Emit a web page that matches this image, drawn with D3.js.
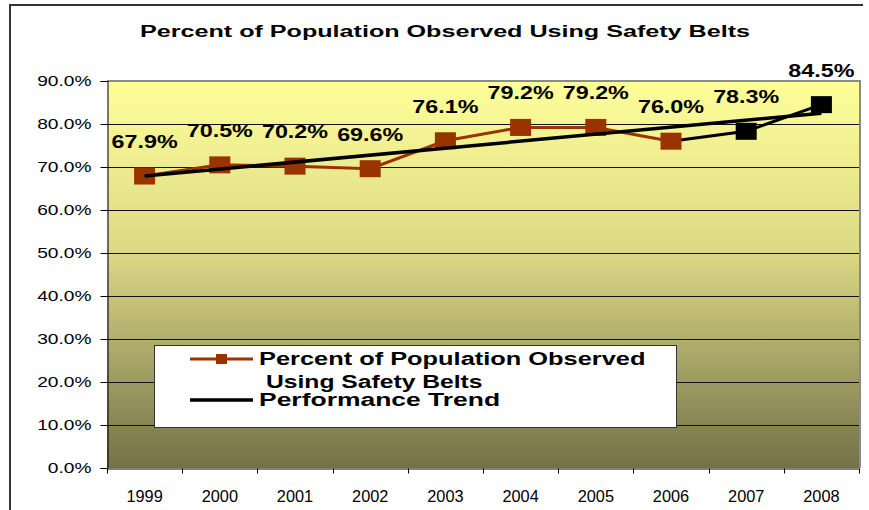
<!DOCTYPE html>
<html>
<head>
<meta charset="utf-8">
<script src="https://cdn.jsdelivr.net/npm/d3@7"></script>
<style>
  html, body { margin: 0; padding: 0; background: #fff; }
  svg { display: block; font-family: "Liberation Sans", Arial, sans-serif; }
</style>
</head>
<body>
<div id="chart"></div>
<script>
(function (d3) {
  "use strict";

  // values
  var years = ["1999", "2000", "2001", "2002", "2003", "2004", "2005", "2006", "2007", "2008"];
  var beltUse = [67.9, 70.5, 70.2, 69.6, 76.1, 79.2, 79.2, 76.0, 78.3, 84.5];
  var trendYears = ["1999", "2008"];
  var trendValues = [67.9, 82.5];
  var yTicks = [0, 10, 20, 30, 40, 50, 60, 70, 80, 90];
  var seriesName = ["Percent of Population Observed", "Using Safety Belts"];
  var trendName = "Performance Trend";
  var title = "Percent of Population Observed Using Safety Belts";
  var firstBlackYear = "2007"; // last two years drawn in black

  var W = 869, H = 510;
  var plot = { left: 107, top: 81, right: 859, bottom: 468 };
  var brown = "#993300";

  var svg = d3.select("#chart").append("svg")
      .attr("width", W)
      .attr("height", H);

  // widen text the way the original (stretched) picture does
  function stretch(sel, factor) {
    sel.each(function () {
      var len = this.getComputedTextLength();
      d3.select(this).attr("textLength", len * factor).attr("lengthAdjust", "spacingAndGlyphs");
    });
  }

  var x = d3.scaleBand().domain(years).range([plot.left, plot.right]).padding(0);
  var y = d3.scaleLinear().domain([0, 90]).range([plot.bottom, plot.top]);
  var cx = function (yr) { return x(yr) + x.bandwidth() / 2; };

  // outer frame (left and top edges only visible)
  svg.append("path")
      .attr("d", "M10," + H + "V5H863")
      .attr("fill", "none")
      .attr("stroke", "#333")
      .attr("stroke-width", 2);

  // title
  svg.append("text")
      .attr("x", 445)
      .attr("y", 37)
      .attr("text-anchor", "middle")
      .attr("font-size", 16)
      .attr("font-weight", "bold")
      .attr("textLength", 610)
      .attr("lengthAdjust", "spacingAndGlyphs")
      .text(title);

  // plot background gradient
  var grad = svg.append("defs").append("linearGradient")
      .attr("id", "bg").attr("x1", 0).attr("y1", 0).attr("x2", 0).attr("y2", 1);
  grad.append("stop").attr("offset", "0%").attr("stop-color", "#ffff99");
  grad.append("stop").attr("offset", "45%").attr("stop-color", "#dbd785");
  grad.append("stop").attr("offset", "100%").attr("stop-color", "#737148");

  svg.append("rect")
      .attr("x", plot.left).attr("y", plot.top)
      .attr("width", plot.right - plot.left)
      .attr("height", plot.bottom - plot.top)
      .attr("fill", "url(#bg)");

  // gridlines
  svg.append("g").selectAll("line")
    .data(yTicks.filter(function (t) { return t > 0 && t < 90; }))
    .enter().append("line")
      .attr("x1", plot.left).attr("x2", plot.right)
      .attr("y1", function (d) { return Math.round(y(d)) + 0.5; })
      .attr("y2", function (d) { return Math.round(y(d)) + 0.5; })
      .attr("stroke", "#111")
      .attr("stroke-width", 1);

  // plot border top/right (grey)
  svg.append("path")
      .attr("d", "M" + plot.left + "," + plot.top + "H" + (plot.right + 1) + "V" + plot.bottom)
      .attr("fill", "none")
      .attr("stroke", "#8a8a8a")
      .attr("stroke-width", 2);

  // y axis
  var yAxis = svg.append("g")
      .attr("transform", "translate(" + (plot.left + 0.5) + ",0)")
      .call(d3.axisLeft(y).tickValues(yTicks).tickSize(7).tickPadding(9)
        .tickFormat(function (d) { return d.toFixed(1) + "%"; }));
  yAxis.select(".domain").attr("stroke", "#000");
  yAxis.selectAll(".tick line").attr("stroke", "#000");
  yAxis.selectAll("text")
      .attr("font-size", 14.5)
      .attr("font-family", "Liberation Sans, Arial, sans-serif")
      .attr("fill", "#000")
      .call(stretch, 1.32);

  // x axis: labels centred in bands, ticks at band edges
  var xAxis = svg.append("g")
      .attr("transform", "translate(0," + (plot.bottom + 0.5) + ")")
      .call(d3.axisBottom(x).tickSize(0).tickPadding(22).tickSizeOuter(0));
  xAxis.select(".domain").attr("stroke", "#000");
  xAxis.selectAll("text")
      .attr("font-size", 16)
      .attr("font-family", "Liberation Sans, Arial, sans-serif")
      .attr("fill", "#000")
      .call(stretch, 1.02);
  xAxis.selectAll("line.edge")
    .data(years.concat(["end"]))
    .enter().append("line")
      .attr("class", "edge")
      .attr("x1", function (d, i) { return Math.round(i < years.length ? x(d) : plot.right) + 0.5; })
      .attr("x2", function (d, i) { return Math.round(i < years.length ? x(d) : plot.right) + 0.5; })
      .attr("y1", 0).attr("y2", 5)
      .attr("stroke", "#000");

  // series line
  var pts = years.map(function (yr, i) { return { year: yr, value: beltUse[i] }; });
  var cut = years.indexOf(firstBlackYear);
  var line = d3.line().x(function (d) { return cx(d.year); }).y(function (d) { return y(d.value); });

  svg.append("path")
      .datum(pts.slice(0, cut))
      .attr("d", line)
      .attr("fill", "none")
      .attr("stroke", brown)
      .attr("stroke-width", 3);
  svg.append("path")
      .datum(pts.slice(cut - 1))
      .attr("d", line)
      .attr("fill", "none")
      .attr("stroke", "#000")
      .attr("stroke-width", 3);

  // markers
  var mw = 21, mh = 17;
  svg.append("g").selectAll("rect")
    .data(pts)
    .enter().append("rect")
      .attr("x", function (d) { return cx(d.year) - mw / 2; })
      .attr("y", function (d) { return y(d.value) - mh / 2; })
      .attr("width", mw)
      .attr("height", mh)
      .attr("fill", function (d, i) { return i >= cut ? "#000" : brown; });

  // trend line
  svg.append("path")
      .datum(trendYears.map(function (yr, i) { return { year: yr, value: trendValues[i] }; }))
      .attr("d", line)
      .attr("fill", "none")
      .attr("stroke", "#000")
      .attr("stroke-width", 3.5);

  // data labels
  svg.append("g").selectAll("text")
    .data(pts)
    .enter().append("text")
      .attr("x", function (d) { return cx(d.year); })
      .attr("y", function (d) { return y(d.value) - 28; })
      .attr("text-anchor", "middle")
      .attr("font-size", 18.5)
      .attr("font-weight", "bold")
      .text(function (d) { return d.value.toFixed(1) + "%"; })
      .call(stretch, 1.26);

  // legend
  var lg = svg.append("g");
  lg.append("rect")
      .attr("x", 154.5).attr("y", 345.5)
      .attr("width", 522).attr("height", 82)
      .attr("fill", "#fff")
      .attr("stroke", "#333")
      .attr("stroke-width", 1);
  lg.append("line")
      .attr("x1", 190).attr("x2", 253).attr("y1", 359).attr("y2", 359)
      .attr("stroke", brown).attr("stroke-width", 3);
  lg.append("rect")
      .attr("x", 216).attr("y", 354).attr("width", 11).attr("height", 10)
      .attr("fill", brown);
  lg.append("line")
      .attr("x1", 190).attr("x2", 253).attr("y1", 400).attr("y2", 400)
      .attr("stroke", "#000").attr("stroke-width", 3.5);
  lg.append("text")
      .attr("x", 259).attr("y", 365)
      .attr("font-size", 18).attr("font-weight", "bold")
      .text(seriesName[0])
      .call(stretch, 1.41);
  lg.append("text")
      .attr("x", 266).attr("y", 388)
      .attr("font-size", 18).attr("font-weight", "bold")
      .text(seriesName[1])
      .call(stretch, 1.37);
  lg.append("text")
      .attr("x", 259).attr("y", 406)
      .attr("font-size", 18).attr("font-weight", "bold")
      .text(trendName)
      .call(stretch, 1.47);
}(d3));
</script>
</body>
</html>
